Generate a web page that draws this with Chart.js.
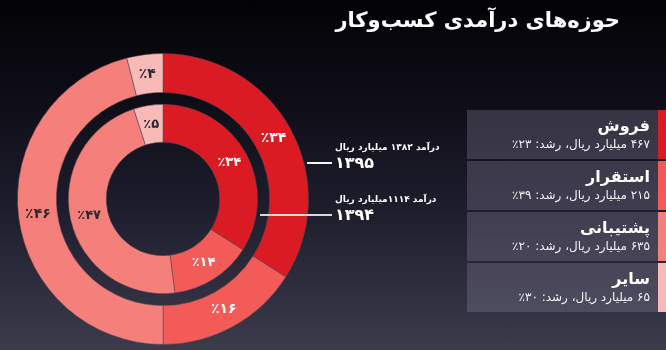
<!DOCTYPE html>
<html lang="fa">
<head>
<meta charset="utf-8">
<script src="https://cdn.jsdelivr.net/npm/chart.js@4/dist/chart.umd.min.js"></script>
<style>
  html, body { margin: 0; padding: 0; }
  body {
    width: 666px; height: 350px; overflow: hidden; position: relative;
    background: linear-gradient(to bottom, #030306 0%, #0f0e18 30%, #1d1c2b 58%, #3c3b4c 100%);
    font-family: "DejaVu Sans", sans-serif; color: #fff;
  }
  #chart { position: absolute; left: 0; top: 0; }
  .title {
    position: absolute; right: 46px; top: 8px;
    font-size: 21px; font-weight: bold; direction: rtl; white-space: nowrap;
  }
  .box {
    position: absolute; left: 467px; width: 191px; height: 49px;
    background: rgba(125, 122, 145, 0.35);
  }
  .strip { position: absolute; left: 658px; width: 8px; height: 49px; }
  .box .name {
    position: absolute; right: 8px; top: 6px;
    font-size: 16px; font-weight: bold; direction: rtl; white-space: nowrap;
  }
  .box .sub {
    position: absolute; right: 8px; top: 27px;
    font-size: 12px; direction: rtl; white-space: nowrap; color: #f2f2f6;
  }
  .line { position: absolute; height: 2px; background: #f4f4f4; }
  .note {
    position: absolute; left: 335px; direction: rtl; white-space: nowrap;
    font-size: 9px; font-weight: bold;
  }
  .year {
    position: absolute; left: 335px; white-space: nowrap;
    font-size: 16px; font-weight: bold;
  }
</style>
</head>
<body>
<canvas id="chart" width="666" height="350"></canvas>
<div class="title">حوزه‌های درآمدی کسب‌وکار</div>
<div id="legend"></div>
<div id="notes"></div>
<script>
// segments (clockwise from top)
const categories = ['فروش', 'استقرار', 'پشتیبانی', 'سایر'];
const colors = ['#db1b23', '#f35b58', '#f57f7a', '#f8bab6'];
const labelColors = ['#ffffff', '#ffffff', '#2b2a30', '#2b2a30'];

// outer ring = 1395, inner ring = 1394 (percent of revenue)
const share1395 = [34, 16, 46, 4];
const share1394 = [34, 14, 47, 5];

// legend figures for 1395
const revenue1395 = [467, 215, 635, 65];
const growth = [23, 39, 20, 30];

const years = ['1395', '1394'];
const totals = [1382, 1114];

const faDigits = '۰۱۲۳۴۵۶۷۸۹';
const fa = n => String(n).replace(/[0-9]/g, d => faDigits[d]);

// legend boxes on the right
const legendEl = document.getElementById('legend');
categories.forEach((name, i) => {
    const top = 110 + i * 51;
    legendEl.insertAdjacentHTML('beforeend',
        `<div class="box" style="top:${top}px">
            <div class="name">${name}</div>
            <div class="sub">${fa(revenue1395[i])} میلیارد ریال، رشد: ${fa(growth[i])}٪</div>
         </div>
         <div class="strip" style="top:${top}px;background:${colors[i]}"></div>`);
});

// year annotations
const notesEl = document.getElementById('notes');
notesEl.innerHTML =
    `<div class="line" style="left:307px;top:162px;width:25px"></div>
     <div class="note" style="top:142px">درآمد ${fa(totals[0])} میلیارد ریال</div>
     <div class="year" style="top:153px">${fa(years[0])}</div>
     <div class="line" style="left:260px;top:214px;width:72px;background:#d8d8dc"></div>
     <div class="note" style="top:194px">درآمد ${fa(totals[1])}میلیارد ریال</div>
     <div class="year" style="top:205px">${fa(years[1])}</div>`;

// percent labels drawn at each arc's centroid
const sliceLabels = {
    id: 'sliceLabels',
    afterDatasetsDraw(chart) {
        const ctx = chart.ctx;
        ctx.save();
        ctx.textAlign = 'center';
        ctx.textBaseline = 'middle';
        chart.data.datasets.forEach((ds, di) => {
            if (!ds.showLabels) return;
            const meta = chart.getDatasetMeta(di);
            meta.data.forEach((arc, i) => {
                const p = arc.tooltipPosition();
                ctx.font = 'bold ' + ds.labelSize + 'px "DejaVu Sans"';
                ctx.fillStyle = labelColors[i];
                ctx.fillText('٪' + fa(ds.data[i]), p.x, p.y);
            });
        });
        ctx.restore();
    }
};

new Chart(document.getElementById('chart'), {
    type: 'doughnut',
    data: {
        labels: categories,
        datasets: [
            {
                data: share1395,
                backgroundColor: colors,
                borderColor: 'rgba(90, 70, 80, 0.55)',
                borderWidth: 1,
                weight: 39,
                showLabels: true,
                labelSize: 14
            },
            {
                data: [100],
                backgroundColor: 'rgba(0,0,0,0)',
                borderWidth: 0,
                weight: 12
            },
            {
                data: share1394,
                backgroundColor: colors,
                borderColor: 'rgba(90, 70, 80, 0.55)',
                borderWidth: 1,
                weight: 38,
                showLabels: true,
                labelSize: 13
            }
        ]
    },
    options: {
        responsive: false,
        animation: false,
        cutout: '39%',
        layout: {
            padding: { left: 17, top: 53, right: 357, bottom: 5 }
        },
        plugins: {
            legend: { display: false },
            tooltip: { enabled: false }
        },
        events: []
    },
    plugins: [sliceLabels]
});
</script>
</body>
</html>
